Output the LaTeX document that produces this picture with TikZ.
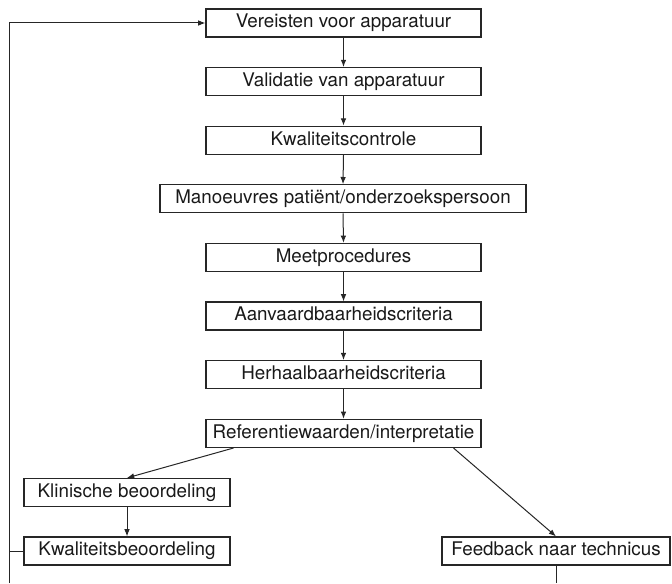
\documentclass[tikz,border=0pt]{standalone}
\usepackage{fontspec}
\setmainfont{TeX Gyre Heros}
\usepackage{tikz}
\usetikzlibrary{arrows.meta}

\begin{document}
\begin{tikzpicture}[x=0.5pt, y=-0.5pt, font=\fontsize{9.4}{11}\selectfont,
  box/.style={draw=black!85, line width=0.6pt, text=black!90, inner sep=0pt,
    minimum height=14pt, text height=6.9pt, text depth=2pt},
  arr/.style={draw=black!85, line width=0.5pt, -{Latex[length=3.6pt,width=2.8pt]}}]
  \useasboundingbox (0,0) rectangle (672,583);
  % main chain
  \node[box, minimum width=137.5pt] (b1) at (343.5,23)    {Vereisten voor apparatuur};
  \node[box, minimum width=137.5pt] (b2) at (343.5,81.6)  {Validatie van apparatuur};
  \node[box, minimum width=137.5pt] (b3) at (343.5,140.2) {Kwaliteitscontrole};
  \node[box, minimum width=183pt]   (b4) at (343,198.8)   {Manoeuvres patiënt/onderzoekspersoon};
  \node[box, minimum width=137.5pt] (b5) at (343.5,257.4) {Meetprocedures};
  \node[box, minimum width=137.5pt] (b6) at (343.5,316)   {Aanvaardbaarheidscriteria};
  \node[box, minimum width=137.5pt] (b7) at (343.5,374.6) {Herhaalbaarheidscriteria};
  \node[box, minimum width=137.5pt] (b8) at (343.5,433.4) {Referentiewaarden/interpretatie};
  \foreach \a/\b in {b1/b2,b2/b3,b3/b4,b4/b5,b5/b6,b6/b7,b7/b8}
    \draw[arr] (\a.south) -- (\b.north);
  % branches
  \node[box, minimum width=103pt] (kl) at (127,492.5) {Klinische beoordeling};
  \node[box, minimum width=103pt] (kw) at (127,551)   {Kwaliteitsbeoordeling};
  \node[box, minimum width=114pt] (fb) at (556,551)   {Feedback naar technicus};
  \draw[arr] ([xshift=-55pt]b8.south) -- (kl.north);
  \draw[arr] ([xshift=55pt]b8.south) -- (fb.north);
  \draw[arr] (kl) -- (kw);
  % loop back
  \coordinate (lb) at (9,583);
  \coordinate (fe) at (556,583);
  \draw[arr] (lb) |- (b1.west);
  \draw[draw=black!85, line width=0.5pt] (kw.west) -- (kw.west -| lb);
  \draw[draw=black!85, line width=0.5pt] (fb.south) -- (fe);
\end{tikzpicture}
\end{document}
